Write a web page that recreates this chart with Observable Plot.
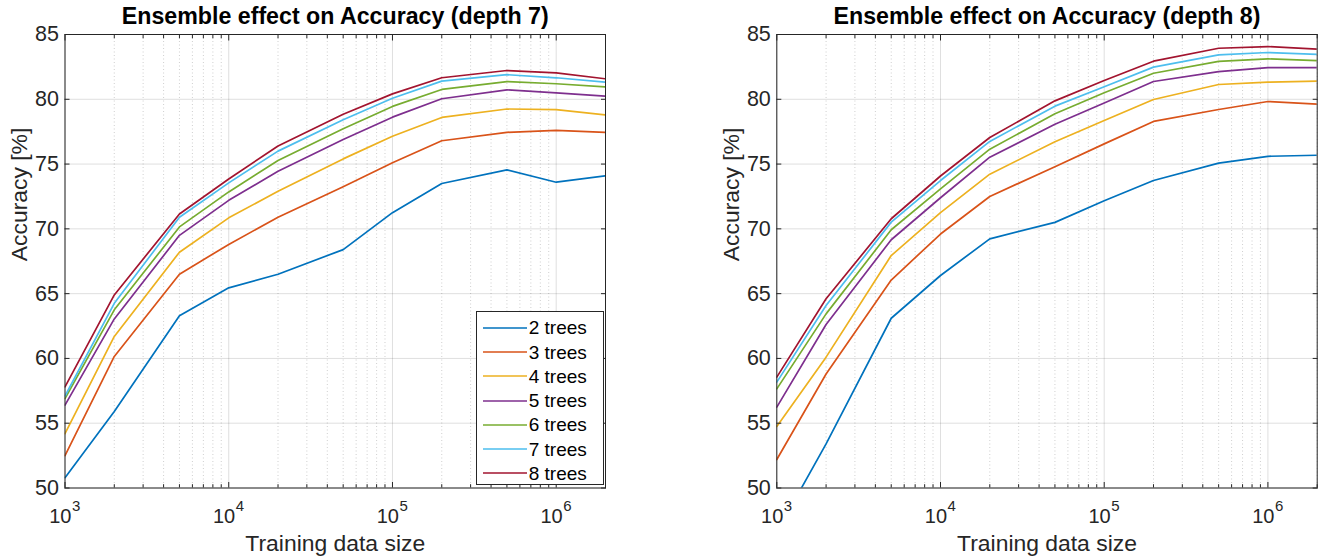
<!DOCTYPE html>
<html><head><meta charset="utf-8">
<script src="https://cdn.jsdelivr.net/npm/d3@7"></script>
<script src="https://cdn.jsdelivr.net/npm/@observablehq/plot@0.6"></script>
<style>
html,body{margin:0;padding:0;background:#fff;}
#wrap{position:relative;width:1322px;height:560px;overflow:hidden;font-family:"Liberation Sans",Arial,Helvetica,sans-serif;}
.panel{position:absolute;top:0;}
.legend{position:absolute;box-sizing:border-box;border:1px solid #262626;background:#fff;padding-top:4px;}
.legend .row{display:flex;align-items:center;height:24.27px;}
.legend .row svg{margin-left:6px;margin-right:2px;}
.legend .row span{font-size:19px;color:#000;line-height:1;}
</style></head>
<body><div id="wrap"></div>
<script>
// ---- data ----
const sizes = [1e3, 2e3, 5e3, 1e4, 2e4, 5e4, 1e5, 2e5, 5e5, 1e6, 2e6];
const seriesNames = ["2 trees", "3 trees", "4 trees", "5 trees", "6 trees", "7 trees", "8 trees"];
const seriesColors = ["#0072BD", "#D95319", "#EDB120", "#7E2F8E", "#77AC30", "#4DBEEE", "#A2142F"];

// depth 7
const d7_t2 = [50.8, 55.9, 63.3, 65.45, 66.5, 68.4, 71.25, 73.5, 74.55, 73.6, 74.1];
const d7_t3 = [52.5, 60.15, 66.5, 68.8, 70.9, 73.25, 75.1, 76.8, 77.45, 77.6, 77.45];
const d7_t4 = [54.2, 61.7, 68.2, 70.85, 72.9, 75.4, 77.15, 78.6, 79.25, 79.2, 78.8];
const d7_t5 = [56.4, 63.05, 69.5, 72.2, 74.45, 76.9, 78.62, 80.04, 80.73, 80.5, 80.24];
const d7_t6 = [56.9, 63.75, 70.15, 72.85, 75.28, 77.72, 79.45, 80.76, 81.37, 81.2, 80.96];
const d7_t7 = [57.1, 64.25, 70.9, 73.55, 76.0, 78.42, 80.08, 81.4, 81.9, 81.66, 81.32];
const d7_t8 = [57.8, 64.9, 71.15, 73.85, 76.4, 78.85, 80.42, 81.66, 82.22, 82.04, 81.58];

// depth 8
const d8_t2 = [46.6, 53.4, 63.1, 66.4, 69.23, 70.5, 72.17, 73.73, 75.07, 75.6, 75.68];
const d8_t3 = [52.2, 58.8, 66.05, 69.6, 72.5, 74.8, 76.56, 78.29, 79.21, 79.83, 79.62];
const d8_t4 = [54.75, 60.1, 67.94, 71.25, 74.22, 76.72, 78.36, 79.98, 81.14, 81.32, 81.4];
const d8_t5 = [56.24, 62.62, 69.16, 72.4, 75.53, 78.07, 79.72, 81.37, 82.14, 82.45, 82.45];
const d8_t6 = [57.65, 63.44, 69.93, 73.09, 76.15, 78.88, 80.5, 82.01, 82.92, 83.12, 82.99];
const d8_t7 = [58.17, 64.08, 70.52, 73.73, 76.75, 79.47, 80.97, 82.48, 83.43, 83.61, 83.46];
const d8_t8 = [58.56, 64.6, 70.78, 74.08, 77.05, 79.88, 81.45, 82.94, 83.94, 84.07, 83.87];

// axes
const xDomain = [1e3, 2e6];
const yDomain = [50, 85];
const xTicks = [1e3, 1e4, 1e5, 1e6];
const xTickBase = ["10", "10", "10", "10"];
const xTickExp = ["3", "4", "5", "6"];
const xMinor = [2e3,3e3,4e3,5e3,6e3,7e3,8e3,9e3, 2e4,3e4,4e4,5e4,6e4,7e4,8e4,9e4, 2e5,3e5,4e5,5e5,6e5,7e5,8e5,9e5, 2e6];
const yTicks = [50, 55, 60, 65, 70, 75, 80, 85];
const titles = ["Ensemble effect on Accuracy (depth 7)", "Ensemble effect on Accuracy (depth 8)"];
const xLabel = "Training data size";
const yLabel = "Accuracy [%]";

function table(seriesArrays) {
  const rows = [];
  seriesArrays.forEach((vals, s) => vals.forEach((v, i) => rows.push({size: sizes[i], acc: v, series: seriesNames[s]})));
  return rows;
}
const rows7 = table([d7_t2, d7_t3, d7_t4, d7_t5, d7_t6, d7_t7, d7_t8]);
const rows8 = table([d8_t2, d8_t3, d8_t4, d8_t5, d8_t6, d8_t7, d8_t8]);

const FONT = '"Liberation Sans", Arial, Helvetica, sans-serif';
const AX = "#262626";

function panel(title, rows, mLeft, mRight) {
  return Plot.plot({
    width: 661, height: 560,
    marginLeft: mLeft, marginRight: mRight, marginTop: 34, marginBottom: 72.5,
    style: {fontFamily: FONT, background: "white", color: AX, overflow: "visible"},
    x: {type: "log", domain: xDomain},
    y: {domain: yDomain},
    color: {domain: seriesNames, range: seriesColors},
    marks: [
      Plot.ruleY(yTicks, {y: d => d, stroke: AX, strokeOpacity: 0.15}),
      Plot.ruleX(xMinor, {x: d => d, stroke: AX, strokeOpacity: 0.22, strokeDasharray: "1,2.5"}),
      Plot.ruleX(xTicks, {x: d => d, stroke: AX, strokeOpacity: 0.15}),
      Plot.line(rows, {x: "size", y: "acc", z: "series", stroke: "series", strokeWidth: 1.7, clip: true}),
      Plot.frame({stroke: AX, strokeWidth: 1}),
      // inward tick marks
      Plot.axisY(yTicks, {anchor: "left", tickSize: -5, tickFormat: () => "", label: null, stroke: AX}),
      Plot.axisY(yTicks, {anchor: "right", tickSize: -5, tickFormat: () => "", label: null, stroke: AX}),
      Plot.axisX(xTicks, {anchor: "bottom", tickSize: -5.5, tickFormat: () => "", label: null, stroke: AX}),
      Plot.axisX(xTicks, {anchor: "top", tickSize: -5.5, tickFormat: () => "", label: null, stroke: AX}),
      Plot.axisX(xMinor, {anchor: "bottom", tickSize: -3.3, tickFormat: () => "", label: null, stroke: AX}),
      Plot.axisX(xMinor, {anchor: "top", tickSize: -3.3, tickFormat: () => "", label: null, stroke: AX}),
      // tick labels
      Plot.axisY(yTicks, {anchor: "left", tickSize: 0, tickPadding: 6, label: null, fontSize: 21.5, fill: AX}),
      Plot.text(xTicks, {x: d => d, text: (d, i) => xTickBase[i], frameAnchor: "bottom", textAnchor: "end", lineAnchor: "bottom", dx: 6.5, dy: 35, fontSize: 20, fill: AX}),
      Plot.text(xTicks, {x: d => d, text: (d, i) => xTickExp[i], frameAnchor: "bottom", textAnchor: "start", lineAnchor: "bottom", dx: 7, dy: 22.5, fontSize: 15, fill: AX}),
      // axis titles
      Plot.text([yLabel], {frameAnchor: "left", rotate: -90, dx: -45, fontSize: 22.9, fill: AX}),
      Plot.text([xLabel], {frameAnchor: "bottom", lineAnchor: "bottom", dy: 63, fontSize: 22.9, fill: AX}),
      Plot.text([title], {frameAnchor: "top", lineAnchor: "bottom", dy: -10.7, fontSize: 23.2, fontWeight: "bold", fill: "#000"})
    ]
  });
}

const wrap = document.getElementById("wrap");
const p1 = panel(titles[0], rows7, 64.5, 56);
const p2 = panel(titles[1], rows8, 115.3, 5.3);
const d1 = document.createElement("div"); d1.className = "panel"; d1.style.left = "0px"; d1.appendChild(p1);
const d2 = document.createElement("div"); d2.className = "panel"; d2.style.left = "661px"; d2.appendChild(p2);
wrap.appendChild(d1); wrap.appendChild(d2);

// legend (inside left axes, bottom-right)
const lg = document.createElement("div");
lg.className = "legend";
lg.style.left = "475.7px"; lg.style.top = "310.7px"; lg.style.width = "128.3px"; lg.style.height = "174.3px";
seriesNames.forEach((name, i) => {
  const row = document.createElement("div"); row.className = "row";
  const sw = d3.create("svg").attr("width", 44).attr("height", 4);
  sw.append("line").attr("x1", 0).attr("x2", 44).attr("y1", 2).attr("y2", 2).attr("stroke", seriesColors[i]).attr("stroke-width", 1.7);
  row.appendChild(sw.node());
  const sp = document.createElement("span"); sp.textContent = name; row.appendChild(sp);
  lg.appendChild(row);
});
wrap.appendChild(lg);
</script>
</body></html>
